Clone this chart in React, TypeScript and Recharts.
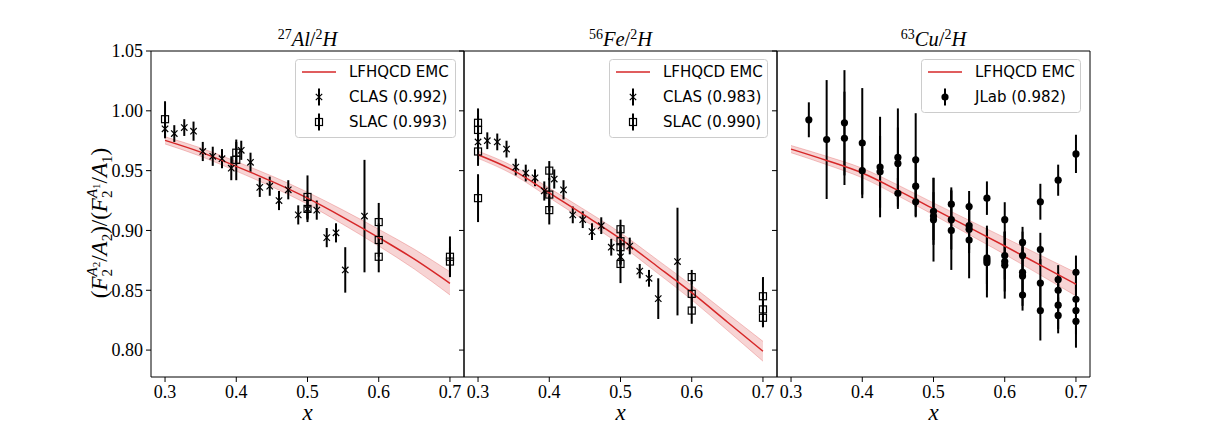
import React from 'react';
import {
  ComposedChart,
  Scatter,
  Line,
  Area,
  XAxis,
  YAxis,
  ErrorBar,
  ReferenceLine,
  Legend,
} from 'recharts';

// ---------------- data ----------------
const X_TICKS = [0.3, 0.4, 0.5, 0.6, 0.7];
const Y_TICKS = [0.8, 0.85, 0.9, 0.95, 1.0, 1.05];

// Al / 2H
const alClasX = [0.3, 0.313, 0.327, 0.34, 0.353, 0.367, 0.38, 0.393, 0.407, 0.42, 0.433, 0.447, 0.46, 0.473, 0.487, 0.5, 0.513, 0.527, 0.54, 0.553, 0.58];
const alClasY = [0.985, 0.981, 0.986, 0.983, 0.966, 0.962, 0.96, 0.952, 0.967, 0.957, 0.936, 0.937, 0.925, 0.934, 0.913, 0.918, 0.917, 0.894, 0.898, 0.867, 0.912];
const alClasErr = [0.008, 0.007, 0.007, 0.008, 0.008, 0.008, 0.008, 0.01, 0.008, 0.008, 0.008, 0.008, 0.008, 0.008, 0.008, 0.009, 0.008, 0.008, 0.008, 0.019, 0.047];

const alSlacX = [0.3, 0.4, 0.4, 0.5, 0.5, 0.6, 0.6, 0.6, 0.7, 0.7];
const alSlacY = [0.993, 0.965, 0.959, 0.928, 0.918, 0.907, 0.892, 0.878, 0.878, 0.874];
const alSlacErr = [0.015, 0.009, 0.017, 0.018, 0.011, 0.016, 0.014, 0.013, 0.017, 0.012];

// Fe / 2H
const feClasX = [0.3, 0.313, 0.327, 0.34, 0.353, 0.367, 0.38, 0.393, 0.407, 0.42, 0.433, 0.447, 0.46, 0.473, 0.487, 0.5, 0.513, 0.527, 0.54, 0.553, 0.58];
const feClasY = [0.974, 0.975, 0.974, 0.968, 0.953, 0.948, 0.944, 0.933, 0.943, 0.934, 0.913, 0.909, 0.899, 0.904, 0.886, 0.878, 0.887, 0.866, 0.86, 0.843, 0.874];
const feClasErr = [0.008, 0.007, 0.007, 0.007, 0.007, 0.007, 0.007, 0.008, 0.008, 0.008, 0.007, 0.007, 0.007, 0.007, 0.007, 0.007, 0.007, 0.006, 0.007, 0.017, 0.045];

const feSlacX = [0.3, 0.3, 0.3, 0.3, 0.4, 0.4, 0.4, 0.5, 0.5, 0.5, 0.5, 0.6, 0.6, 0.6, 0.7, 0.7, 0.7];
const feSlacY = [0.99, 0.984, 0.966, 0.927, 0.95, 0.93, 0.917, 0.901, 0.891, 0.886, 0.872, 0.861, 0.847, 0.833, 0.845, 0.834, 0.827];
const feSlacErr = [0.012, 0.012, 0.012, 0.02, 0.008, 0.014, 0.012, 0.008, 0.012, 0.014, 0.016, 0.006, 0.012, 0.011, 0.016, 0.014, 0.008];

// Cu / 2H
const cuJlabX = [
  0.325, 0.35, 0.375, 0.375, 0.4, 0.4, 0.425, 0.425, 0.45, 0.45, 0.45, 0.475, 0.475, 0.475,
  0.5, 0.5, 0.5, 0.525, 0.525, 0.525, 0.55, 0.55, 0.55, 0.55, 0.575, 0.575, 0.575, 0.575,
  0.6, 0.6, 0.6, 0.6, 0.625, 0.625, 0.625, 0.625, 0.625, 0.65, 0.65, 0.65, 0.65,
  0.675, 0.675, 0.675, 0.675, 0.675, 0.7, 0.7, 0.7, 0.7, 0.7,
];
const cuJlabY = [
  0.9925, 0.976, 0.99, 0.977, 0.973, 0.95, 0.953, 0.949, 0.961, 0.956, 0.931, 0.959, 0.937, 0.924,
  0.916, 0.912, 0.909, 0.922, 0.909, 0.9, 0.92, 0.904, 0.901, 0.892, 0.927, 0.877, 0.875, 0.873,
  0.909, 0.879, 0.874, 0.871, 0.89, 0.879, 0.865, 0.862, 0.846, 0.924, 0.884, 0.856, 0.833,
  0.942, 0.859, 0.85, 0.8375, 0.829, 0.964, 0.865, 0.8425, 0.833, 0.824,
];
const cuJlabErr = [
  0.0146, 0.0497, 0.044, 0.039, 0.046, 0.02, 0.042, 0.03, 0.041, 0.03, 0.013, 0.039, 0.025, 0.013,
  0.028, 0.02, 0.035, 0.014, 0.025, 0.033, 0.013, 0.02, 0.02, 0.032, 0.014, 0.027, 0.02, 0.029,
  0.0146, 0.02, 0.025, 0.028, 0.013, 0.02, 0.02, 0.025, 0.013, 0.015, 0.014, 0.02, 0.025,
  0.013, 0.012, 0.015, 0.02, 0.015, 0.016, 0.014, 0.02, 0.02, 0.022,
];

// LFHQCD EMC curves
const curveX = [0.3, 0.35, 0.4, 0.45, 0.5, 0.55, 0.6, 0.65, 0.7];
const alCurveY = [0.9753, 0.9655, 0.9536, 0.941, 0.927, 0.911, 0.894, 0.876, 0.8558];
const alBandHalf = [0.003, 0.0035, 0.004, 0.0045, 0.005, 0.006, 0.007, 0.0083, 0.0097];
const feCurveY = [0.9633, 0.95, 0.9314, 0.9126, 0.893, 0.8707, 0.848, 0.8235, 0.799];
const feBandHalf = [0.003, 0.0035, 0.004, 0.0045, 0.005, 0.0055, 0.006, 0.007, 0.0083];
const cuCurveY = [0.968, 0.9585, 0.948, 0.9335, 0.918, 0.9025, 0.887, 0.871, 0.855];
const cuBandHalf = [0.003, 0.0035, 0.004, 0.0045, 0.005, 0.006, 0.007, 0.0083, 0.0097];

// ---------------- layout (page pixels) ----------------
const W = 1211;
const H = 424;
const PLOT_TOP = 51;
const PLOT_BOTTOM = 377;
const XAXIS_H = 40;
const PANEL_LEFTS = [151, 464, 777];
const PANEL_W = 313;
const X_DOMAIN: [number, number] = [0.2803, 0.7197];
const Y_DOMAIN: [number, number] = [0.7775, 1.05];

const SERIF = "'Liberation Serif', 'DejaVu Serif', serif";
const SANS = "'DejaVu Sans', 'Liberation Sans', sans-serif";
const RED = '#d62728';

const pts = (xs: number[], ys: number[], es: number[]) =>
  xs.map((x, i) => ({ x, y: ys[i], err: es[i] }));
const curve = (xs: number[], ys: number[], hs: number[]) =>
  xs.map((x, i) => ({ x, y: ys[i], band: [ys[i] - hs[i], ys[i] + hs[i]] }));

// ---------------- markers ----------------
const XMark = (p: any) => {
  const { cx, cy } = p;
  if (cx == null || cy == null) return <g />;
  const s = 3.2;
  return (
    <g stroke="#000" strokeWidth={1.2}>
      <line x1={cx - s} y1={cy - s} x2={cx + s} y2={cy + s} />
      <line x1={cx - s} y1={cy + s} x2={cx + s} y2={cy - s} />
    </g>
  );
};
const SquareMark = (p: any) => {
  const { cx, cy } = p;
  if (cx == null || cy == null) return <g />;
  return <rect x={cx - 3.5} y={cy - 3.5} width={7} height={7} fill="none" stroke="#000" strokeWidth={1.2} />;
};
const DotMark = (p: any) => {
  const { cx, cy } = p;
  if (cx == null || cy == null) return <g />;
  return <circle cx={cx} cy={cy} r={3.6} fill="#000" />;
};

type SeriesDef = { name: string; data: any[]; shape: any };

// ---------------- labels ----------------
const XLabel = (props: any) => {
  const vb = props.viewBox || { x: 0, y: 0, width: 0 };
  return (
    <text x={vb.x + vb.width / 2} y={vb.y + 43} textAnchor="middle" fontFamily={SERIF} fontStyle="italic" fontSize={23} fill="#000">
      x
    </text>
  );
};

const YLabel = () => (
  <text transform="translate(107, 223) rotate(-90)" textAnchor="middle" fontFamily={SERIF} fontSize={23} fill="#000">
    <tspan>(</tspan>
    <tspan fontStyle="italic">F</tspan>
    <tspan fontSize={15} dy={5}>2</tspan>
    <tspan fontSize={15} dx={-7.5} dy={-15} fontStyle="italic">A</tspan>
    <tspan fontSize={11} dy={3}>2</tspan>
    <tspan dy={7}>/</tspan>
    <tspan fontStyle="italic">A</tspan>
    <tspan fontSize={15} dy={5}>2</tspan>
    <tspan dy={-5}>)/(</tspan>
    <tspan fontStyle="italic">F</tspan>
    <tspan fontSize={15} dy={5}>2</tspan>
    <tspan fontSize={15} dx={-7.5} dy={-15} fontStyle="italic">A</tspan>
    <tspan fontSize={11} dy={3}>1</tspan>
    <tspan dy={7}>/</tspan>
    <tspan fontStyle="italic">A</tspan>
    <tspan fontSize={15} dy={5}>1</tspan>
    <tspan dy={-5}>)</tspan>
  </text>
);

const makeTitle = (mass: string, el: string) => (props: any) => {
  const vb = props.viewBox || { x: 0, y: 0, width: 0 };
  return (
    <text x={vb.x + vb.width / 2} y={vb.y - 5} textAnchor="middle" fontFamily={SERIF} fontSize={20.5} fill="#000">
      <tspan fontSize={14} dy={-7.5}>{mass}</tspan>
      <tspan dy={7.5} fontStyle="italic">{el}</tspan>
      <tspan>/</tspan>
      <tspan fontSize={14} dy={-7.5}>2</tspan>
      <tspan dy={7.5} fontStyle="italic">H</tspan>
    </text>
  );
};

// ---------------- legend ----------------
type LegendItem = { label: string; marker: 'line' | 'x' | 'sq' | 'dot' };
const makeLegend = (items: LegendItem[], width: number) => () => {
  const h = 4 + items.length * 25;
  return (
    <svg width={width} height={h} style={{ display: 'block' }}>
      <rect x={0.5} y={0.5} width={width - 1} height={h - 1} rx={3} fill="#fff" fillOpacity={0.8} stroke="#cccccc" strokeWidth={1} />
      {items.map((it, i) => {
        const cy = 13 + i * 25;
        const cx = 24;
        let handle: any = null;
        if (it.marker === 'line') {
          handle = <line x1={7} x2={41} y1={cy} y2={cy} stroke={RED} strokeWidth={1.5} />;
        } else {
          handle = (
            <g>
              <line x1={cx} x2={cx} y1={cy - 8.5} y2={cy + 8.5} stroke="#000" strokeWidth={2} />
              {it.marker === 'x' && <XMark cx={cx} cy={cy} />}
              {it.marker === 'sq' && <SquareMark cx={cx} cy={cy} />}
              {it.marker === 'dot' && <DotMark cx={cx} cy={cy} />}
            </g>
          );
        }
        return (
          <g key={i}>
            {handle}
            <text x={54} y={cy} dominantBaseline="central" fontFamily={SANS} fontSize={15} fill="#000">
              {it.label}
            </text>
          </g>
        );
      })}
    </svg>
  );
};

// ---------------- panel ----------------
type PanelProps = {
  index: number;
  mass: string;
  el: string;
  series: SeriesDef[];
  curveData: any[];
  legendItems: LegendItem[];
  legendLeft: number;
  legendWidth: number;
};

const Panel = ({ index, mass, el, series, curveData, legendItems, legendLeft, legendWidth }: PanelProps) => {
  const left = PANEL_LEFTS[index];
  const first = index === 0;
  const yAxisW = first ? 60 : 8;
  const margin = {
    top: PLOT_TOP,
    bottom: H - PLOT_BOTTOM - XAXIS_H,
    left: left - yAxisW,
    right: W - left - PANEL_W,
  };
  const tickStyle = { fill: '#000', fontSize: 18, fontFamily: SERIF };
  return (
    <div style={{ position: 'absolute', left: 0, top: 0 }}>
      <ComposedChart width={W} height={H} margin={margin}>
        <XAxis
          dataKey="x"
          type="number"
          domain={X_DOMAIN}
          ticks={X_TICKS}
          interval={0}
          allowDataOverflow
          height={XAXIS_H}
          tickSize={5}
          tickMargin={3}
          tick={tickStyle}
          tickFormatter={(v: number) => v.toFixed(1)}
          axisLine={{ stroke: '#000', strokeWidth: 1 }}
          tickLine={{ stroke: '#000', strokeWidth: 1 }}
          label={XLabel}
        />
        <YAxis
          type="number"
          domain={Y_DOMAIN}
          ticks={Y_TICKS}
          interval={0}
          allowDataOverflow
          width={yAxisW}
          tickSize={5}
          tickMargin={3}
          tick={tickStyle}
          tickFormatter={first ? (v: number) => v.toFixed(2) : () => ''}
          axisLine={{ stroke: '#000', strokeWidth: 1 }}
          tickLine={{ stroke: '#000', strokeWidth: 1 }}
          label={first ? YLabel : undefined}
        />
        <ReferenceLine y={Y_DOMAIN[1]} stroke="#000" strokeWidth={1} label={makeTitle(mass, el)} />
        <ReferenceLine x={X_DOMAIN[1]} stroke="#000" strokeWidth={1} />
        {series.map((s) => (
          <Scatter key={s.name} name={s.name} data={s.data} dataKey="y" shape={s.shape} isAnimationActive={false}>
            <ErrorBar dataKey="err" direction="y" width={0} stroke="#000" strokeWidth={2} />
          </Scatter>
        ))}
        <Area
          data={curveData}
          dataKey="band"
          type="monotone"
          fill={RED}
          fillOpacity={0.2}
          stroke={RED}
          strokeOpacity={0.25}
          strokeWidth={1}
          isAnimationActive={false}
        />
        <Line
          data={curveData}
          dataKey="y"
          type="monotone"
          stroke={RED}
          strokeWidth={1.5}
          dot={false}
          isAnimationActive={false}
        />
        <Legend
          layout="vertical"
          align="center"
          verticalAlign="middle"
          content={makeLegend(legendItems, legendWidth)}
          wrapperStyle={{ left: legendLeft, top: 59, width: legendWidth }}
        />
      </ComposedChart>
    </div>
  );
};

export default function App() {
  return (
    <div style={{ position: 'fixed', left: 0, top: 0, width: W, height: H, background: '#fff', overflow: 'hidden' }}>
      <Panel
        index={0}
        mass="27"
        el="Al"
        series={[
          { name: 'CLAS', data: pts(alClasX, alClasY, alClasErr), shape: XMark },
          { name: 'SLAC', data: pts(alSlacX, alSlacY, alSlacErr), shape: SquareMark },
        ]}
        curveData={curve(curveX, alCurveY, alBandHalf)}
        legendItems={[
          { label: 'LFHQCD EMC', marker: 'line' },
          { label: 'CLAS (0.992)', marker: 'x' },
          { label: 'SLAC (0.993)', marker: 'sq' },
        ]}
        legendLeft={295}
        legendWidth={161}
      />
      <Panel
        index={1}
        mass="56"
        el="Fe"
        series={[
          { name: 'CLAS', data: pts(feClasX, feClasY, feClasErr), shape: XMark },
          { name: 'SLAC', data: pts(feSlacX, feSlacY, feSlacErr), shape: SquareMark },
        ]}
        curveData={curve(curveX, feCurveY, feBandHalf)}
        legendItems={[
          { label: 'LFHQCD EMC', marker: 'line' },
          { label: 'CLAS (0.983)', marker: 'x' },
          { label: 'SLAC (0.990)', marker: 'sq' },
        ]}
        legendLeft={609}
        legendWidth={159}
      />
      <Panel
        index={2}
        mass="63"
        el="Cu"
        series={[{ name: 'JLab', data: pts(cuJlabX, cuJlabY, cuJlabErr), shape: DotMark }]}
        curveData={curve(curveX, cuCurveY, cuBandHalf)}
        legendItems={[
          { label: 'LFHQCD EMC', marker: 'line' },
          { label: 'JLab (0.982)', marker: 'dot' },
        ]}
        legendLeft={921}
        legendWidth={160}
      />
    </div>
  );
}
